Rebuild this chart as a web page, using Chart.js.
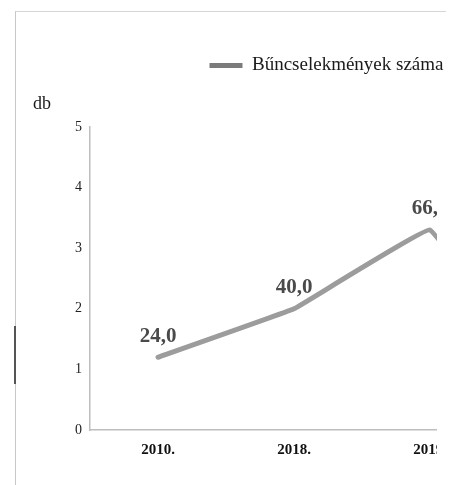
<!DOCTYPE html>
<html>
<head>
<meta charset="utf-8">
<script src="https://cdn.jsdelivr.net/npm/chart.js@4.4.1/dist/chart.umd.min.js"></script>
<style>
html, body { margin: 0; padding: 0; background: #fff; overflow: hidden; }
#wrap { position: relative; width: 456px; height: 485px; overflow: hidden; }
#frame { position: absolute; left: 15px; top: 11px; width: 430px; height: 474px; border-left: 1px solid #c8c8c8; border-top: 1px solid #d6d6d6; }
#mark { position: absolute; left: 14px; top: 326px; width: 2px; height: 58px; background: #555; }
#chart { position: absolute; left: 0; top: 0; clip-path: polygon(0 0, 456px 0, 456px 92px, 437px 92px, 437px 485px, 0 485px); }
</style>
</head>
<body>
<div id="wrap">
	<div id="frame"></div>
	<div id="mark"></div>
	<canvas id="chart" width="640" height="485"></canvas>
</div>
<script>
// years on the x axis (last one is cut off by the scan)
var years = ["2010.", "2018.", "2019.", "2020."];
// plotted values on the "db" axis
var values = [1.2, 2.0, 3.3, 0.2];
// printed value labels above the points
var valueLabels = ["24,0", "40,0", "66,0", "4,0"];
var seriesName = "Bűncselekmények száma";
var yUnit = "db";

var serif = "'Liberation Serif', 'DejaVu Serif', serif";

// value labels above each point + the unit caption above the y axis
var textPlugin = {
	id: "texts",
	afterDatasetsDraw: function(chart) {
		var ctx = chart.ctx;
		var meta = chart.getDatasetMeta(0);
		ctx.save();
		ctx.font = "bold 21px " + serif;
		ctx.fillStyle = "#4a4a4a";
		ctx.textAlign = "center";
		ctx.textBaseline = "middle";
		meta.data.forEach(function(pt, i) {
			ctx.fillText(valueLabels[i], pt.x, pt.y - 21);
		});
		// unit caption
		var yScale = chart.scales.y;
		ctx.font = "18px " + serif;
		ctx.fillStyle = "#1a1a1a";
		ctx.textAlign = "left";
		ctx.fillText(yUnit, yScale.left + 14, chart.chartArea.top - 23);
		ctx.restore();
	}
};

var ctx = document.getElementById("chart");
var oChart = new Chart(ctx, {
	type: "line",
	data: {
		labels: years,
		datasets: [{
			label: seriesName,
			data: values,
			borderColor: "#9c9c9c",
			backgroundColor: "#7b7b7b",
			borderWidth: 5,
			borderCapStyle: "round",
			borderJoinStyle: "round",
			tension: 0.05,
			fill: false,
			pointRadius: 0
		}]
	},
	options: {
		responsive: false,
		animation: false,
		devicePixelRatio: 1,
		layout: {
			padding: { top: 46, left: 19, right: 6, bottom: 0 }
		},
		plugins: {
			tooltip: { enabled: false },
			legend: {
				display: true,
				position: "top",
				align: "center",
				labels: {
					boxWidth: 33,
					boxHeight: 5,
					padding: 10,
					color: "#1a1a1a",
					font: { family: serif, size: 19 },
					generateLabels: function(chart) {
						var items = Chart.defaults.plugins.legend.labels.generateLabels(chart);
						items.forEach(function(it) {
							it.fillStyle = "#7b7b7b";
							it.strokeStyle = "#7b7b7b";
							it.lineWidth = 0;
						});
						return items;
					}
				}
			},
			// empty title only keeps the gap between legend and plot
			title: {
				display: true,
				text: "",
				weight: 500,
				font: { family: serif, size: 17 },
				padding: { top: 9, bottom: 12.6 }
			}
		},
		scales: {
			x: {
				offset: true,
				grid: { display: false, drawTicks: false, tickLength: 0 },
				border: { display: true, color: "#bdbdbd", width: 1.5 },
				ticks: {
					color: "#111",
					padding: 11,
					maxRotation: 0,
					autoSkip: false,
					font: { family: serif, size: 15, weight: "bold" }
				},
				afterFit: function(scale) {
					scale.height = 55;
				}
			},
			y: {
				min: 0,
				max: 5,
				grid: { display: false, drawTicks: false, tickLength: 0 },
				border: { display: true, color: "#bdbdbd", width: 1.5 },
				ticks: {
					stepSize: 1,
					color: "#222",
					padding: 8,
					font: { family: serif, size: 14 }
				},
				afterFit: function(scale) {
					scale.width = 71;
				}
			}
		}
	},
	plugins: [textPlugin]
});
</script>
</body>
</html>
